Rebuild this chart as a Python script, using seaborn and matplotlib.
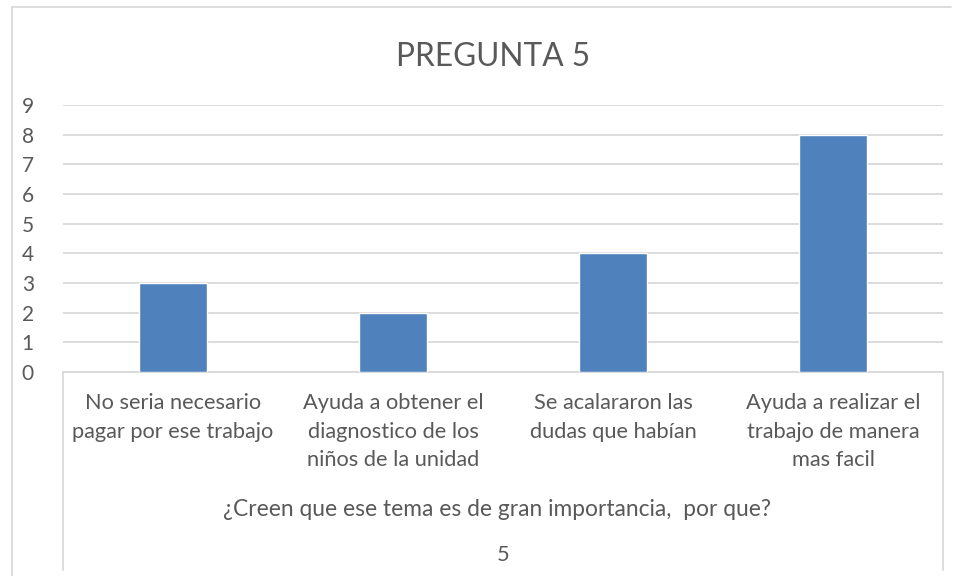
import matplotlib
matplotlib.use("Agg")
import matplotlib.pyplot as plt
from matplotlib.lines import Line2D
import seaborn as sns
import pandas as pd

# Survey answers for question 5
categories = [
    "No seria necesario\npagar por ese trabajo",
    "Ayuda a obtener el\ndiagnostico de los\nniños de la unidad",
    "Se acalararon las\ndudas que habían",
    "Ayuda a realizar el\ntrabajo de manera\nmas facil",
]
counts = [3, 2, 4, 8]
y_ticks = list(range(0, 10))
title = "PREGUNTA 5"
axis_title = "¿Creen que ese tema es de gran importancia,  por que?"
series_name = "5"

sns.set_theme(style="white")
plt.rcParams["font.family"] = ["Lato", "DejaVu Sans"]

text_color = "#595959"
grid_color = "#d9d9d9"
bar_color = "#4f81bd"

W, H = 960, 576
fig = plt.figure(figsize=(W / 100, H / 100), dpi=100)

def fx(px):
    return px / W

def fy(py):
    return 1 - py / H

left, right, top, bottom = 63, 943, 105, 372
ax = fig.add_axes([fx(left), fy(bottom), fx(right) - fx(left), fy(top) - fy(bottom)])

df = pd.DataFrame({"cat": categories, "val": counts})
sns.barplot(data=df, x="cat", y="val", color=bar_color, width=0.31,
            saturation=1, ax=ax, zorder=3)

ax.set_ylim(0, 9)
ax.set_yticks(y_ticks)
ax.set_yticklabels([str(t) for t in y_ticks], fontsize=15, color=text_color)
ax.yaxis.grid(True, color=grid_color, linewidth=1.3, zorder=0)
ax.set_axisbelow(True)
ax.tick_params(axis="y", length=0, pad=21)
ax.tick_params(axis="x", length=0, pad=15, labelsize=15.7, labelcolor=text_color)
for lab in ax.get_xticklabels():
    lab.set_linespacing(1.55)
    lab.set_verticalalignment("top")

for s in ["top", "right", "left"]:
    ax.spines[s].set_visible(False)
ax.spines["bottom"].set_color(grid_color)
ax.spines["bottom"].set_linewidth(1.3)

ax.set_ylabel("")
ax.set_xlabel("")

# Category box lines below the axis
line_kw = dict(color=grid_color, linewidth=1.3, transform=fig.transFigure)
fig.add_artist(Line2D([fx(left), fx(left)], [fy(bottom), fy(570)], **line_kw))
fig.add_artist(Line2D([fx(right), fx(right)], [fy(bottom), fy(570)], **line_kw))

# Outer chart frame
fig.add_artist(Line2D([fx(12), fx(12)], [fy(7), 0], **line_kw))
fig.add_artist(Line2D([fx(12), fx(951)], [fy(7), fy(7)], **line_kw))

fig.text(fx(493), fy(57), title, ha="center", va="center",
         fontsize=22.8, color=text_color)
fig.text(fx(497), fy(509), axis_title, ha="center", va="center",
         fontsize=16.4, color=text_color)
fig.text(fx(503), fy(555), series_name, ha="center", va="center",
         fontsize=15.7, color=text_color)

fig.savefig("out.png", dpi=100, facecolor="white")
